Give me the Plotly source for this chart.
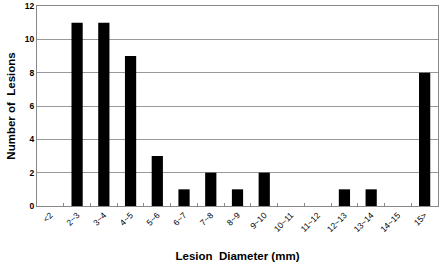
import plotly.graph_objects as go

categories = ["<2", "2~3", "3~4", "4~5", "5~6", "6~7", "7~8", "8~9", "9~10",
              "10~11", "11~12", "12~13", "13~14", "14~15", "15>"]
counts = [0, 11, 11, 9, 3, 1, 2, 1, 2, 0, 0, 1, 1, 0, 8]
y_ticks = [0, 2, 4, 6, 8, 10, 12]

fig = go.Figure(go.Bar(x=categories, y=counts, marker=dict(color="black", line=dict(width=0)),
                       width=0.42))

font = "Liberation Sans, Arial, sans-serif"
fig.update_layout(
    width=440, height=266,
    margin=dict(l=37, r=2, t=6, b=60),
    paper_bgcolor="white", plot_bgcolor="white",
    showlegend=False,
    font=dict(family=font, color="black"),
)
fig.update_xaxes(
    type="category", tickangle=-45, tickfont=dict(size=8.5, family=font, color="black"),
    showline=True, linecolor="#888888", linewidth=1, mirror=True,
    ticks="inside", ticklen=3, tickcolor="#888888", tickson="boundaries",
    title=dict(text="<b>Lesion  Diameter (mm)</b>", font=dict(size=11.5, family=font), standoff=18),
)
fig.update_yaxes(
    range=[0, 12], tickvals=y_ticks, ticktext=[f"<b>{v}</b>" for v in y_ticks],
    tickfont=dict(size=8.5, family=font, color="black"),
    showgrid=True, gridcolor="#999999", gridwidth=1,
    showline=True, linecolor="#888888", linewidth=1, mirror=True,
    zeroline=False,
    title=dict(text="<b>Number of  Lesions</b>", font=dict(size=11.5, family=font), standoff=6),
)

fig.write_html("out.html", config={"displayModeBar": False},
               post_script="document.body.style.margin='0';")
